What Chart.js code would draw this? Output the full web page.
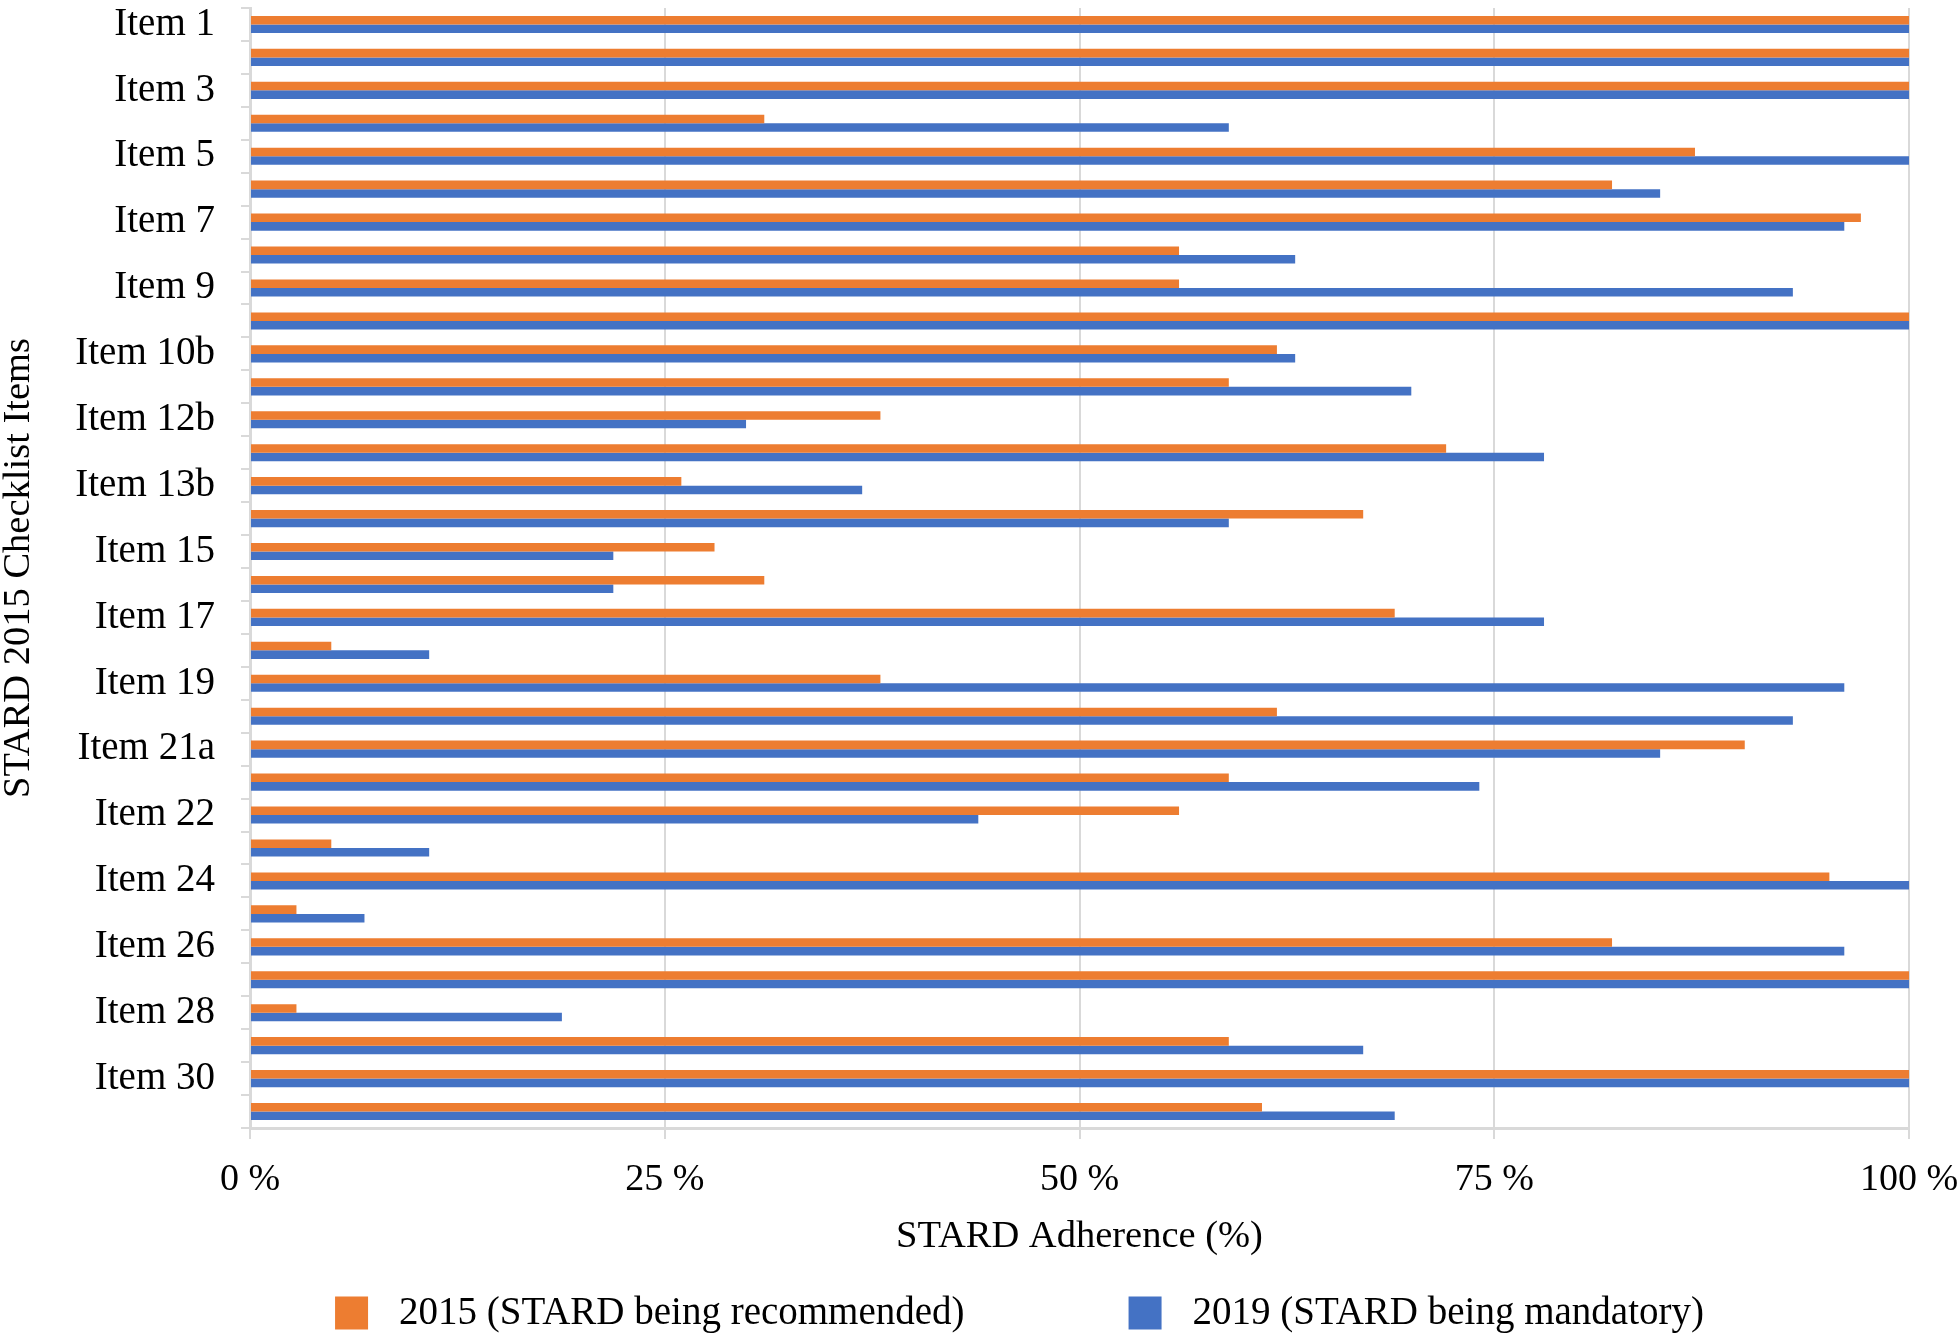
<!DOCTYPE html>
<html>
<head>
<meta charset="utf-8">
<script src="https://cdn.jsdelivr.net/npm/chart.js@4.4.1/dist/chart.umd.min.js"></script>
<style>
  html, body { margin: 0; padding: 0; background: #ffffff; }
  #wrap { width: 1960px; height: 1334px; position: relative; }
</style>
</head>
<body>
<div id="wrap"><canvas id="c" width="1960" height="1334"></canvas></div>
<script>
// ---- data ----
const categories = [
  'Item 1','Item 2','Item 3','Item 4','Item 5','Item 6','Item 7','Item 8','Item 9','Item 10a',
  'Item 10b','Item 12a','Item 12b','Item 13a','Item 13b','Item 14','Item 15','Item 16','Item 17','Item 18',
  'Item 19','Item 20','Item 21a','Item 21b','Item 22','Item 23','Item 24','Item 25','Item 26','Item 27',
  'Item 28','Item 29','Item 30','Overall'
];
const adherence2015 = [100,100,100,31.0,87.1,82.1,97.1,56.0,56.0,100,
  61.9,59.0,38.0,72.1,26.0,67.1,28.0,31.0,69.0,4.9,
  38.0,61.9,90.1,59.0,56.0,4.9,95.2,2.8,82.1,100,
  2.8,59.0,100,61.0];
const adherence2019 = [100,100,100,59.0,100,85.0,96.1,63.0,93.0,100,
  63.0,70.0,29.9,78.0,36.9,59.0,21.9,21.9,78.0,10.8,
  96.1,93.0,85.0,74.1,43.9,10.8,100,6.9,96.1,100,
  18.8,67.1,100,69.0];
const seriesNames = ['2015 (STARD being recommended)', '2019 (STARD being mandatory)'];
const xTickValues = [0, 25, 50, 75, 100];
const xTickLabels = ['0 %', '25 %', '50 %', '75 %', '100 %'];
const xTitle = 'STARD Adherence (%)';
const yTitle = 'STARD 2015 Checklist Items';

// ---- style ----
const FONT = '"Liberation Serif", "Times New Roman", serif';
const ORANGE = '#ED7D31';
const BLUE = '#4472C4';
const GRID = '#d9d9d9';

const bottomLegend = {
  id: 'bottomLegend',
  afterDraw(chart) {
    const ctx = chart.ctx;
    const fs = 39;
    ctx.save();
    ctx.font = fs + 'px ' + FONT;
    ctx.textBaseline = 'middle';
    ctx.textAlign = 'left';
    const box = 33, gap = 31, itemGap = 164;
    const items = chart.data.datasets.map(d => ({ text: d.label, color: d.backgroundColor }));
    const widths = items.map(it => box + gap + ctx.measureText(it.text).width);
    const total = widths.reduce((a, b) => a + b, 0) + itemGap * (items.length - 1);
    let x = 1019.5 - total / 2;
    const yc = 1313;
    items.forEach((it, i) => {
      ctx.fillStyle = it.color;
      ctx.fillRect(x, yc - box / 2, box, box);
      ctx.fillStyle = '#000000';
      ctx.fillText(it.text, x + box + gap, yc + 1);
      x += widths[i] + itemGap;
    });
    ctx.restore();
  }
};

new Chart(document.getElementById('c'), {
  type: 'bar',
  data: {
    labels: categories,
    datasets: [
      { label: seriesNames[0], data: adherence2015, backgroundColor: ORANGE, borderWidth: 0,
        categoryPercentage: 0.52, barPercentage: 1.0 },
      { label: seriesNames[1], data: adherence2019, backgroundColor: BLUE, borderWidth: 0,
        categoryPercentage: 0.52, barPercentage: 1.0 }
    ]
  },
  options: {
    indexAxis: 'y',
    responsive: false,
    animation: false,
    devicePixelRatio: 1,
    layout: { padding: { top: 8, right: 51, bottom: 60, left: 0 } },
    plugins: {
      legend: { display: false },
      tooltip: { enabled: false },
      title: { display: false }
    },
    scales: {
      x: {
        type: 'linear',
        position: 'bottom',
        min: 0,
        max: 100,
        afterBuildTicks(scale) { scale.ticks = xTickValues.map(v => ({ value: v })); },
        afterFit(scale) { scale.height = 146; scale.paddingLeft = 0; scale.paddingRight = 0; },
        ticks: {
          callback: (v) => xTickLabels[xTickValues.indexOf(v)],
          font: { family: FONT, size: 38 },
          color: '#000000',
          padding: 18,
          maxRotation: 0
        },
        grid: { color: GRID, lineWidth: 2, drawTicks: true, tickLength: 11, tickColor: GRID },
        border: { display: true, color: GRID, width: 3 },
        title: {
          display: true,
          text: xTitle,
          font: { family: FONT, size: 38.5, lineHeight: 1.2 },
          color: '#000000',
          padding: { top: 0, bottom: 14 }
        }
      },
      y: {
        type: 'category',
        position: 'left',
        afterFit(scale) { scale.width = 250; scale.paddingTop = 0; scale.paddingBottom = 0; },
        ticks: {
          autoSkip: false,
          callback: function (v, i) { return i % 2 === 0 ? this.getLabelForValue(v) : ''; },
          font: { family: FONT, size: 39 },
          color: '#000000',
          padding: 26
        },
        grid: { drawOnChartArea: false, drawTicks: true, tickLength: 9, color: GRID, lineWidth: 2, offset: true },
        border: { display: true, color: GRID, width: 3 },
        title: {
          display: true,
          text: yTitle,
          font: { family: FONT, size: 38.5, lineHeight: 1 },
          color: '#000000',
          padding: { top: 0, bottom: 0 }
        }
      }
    }
  },
  plugins: [bottomLegend]
});
</script>
</body>
</html>
